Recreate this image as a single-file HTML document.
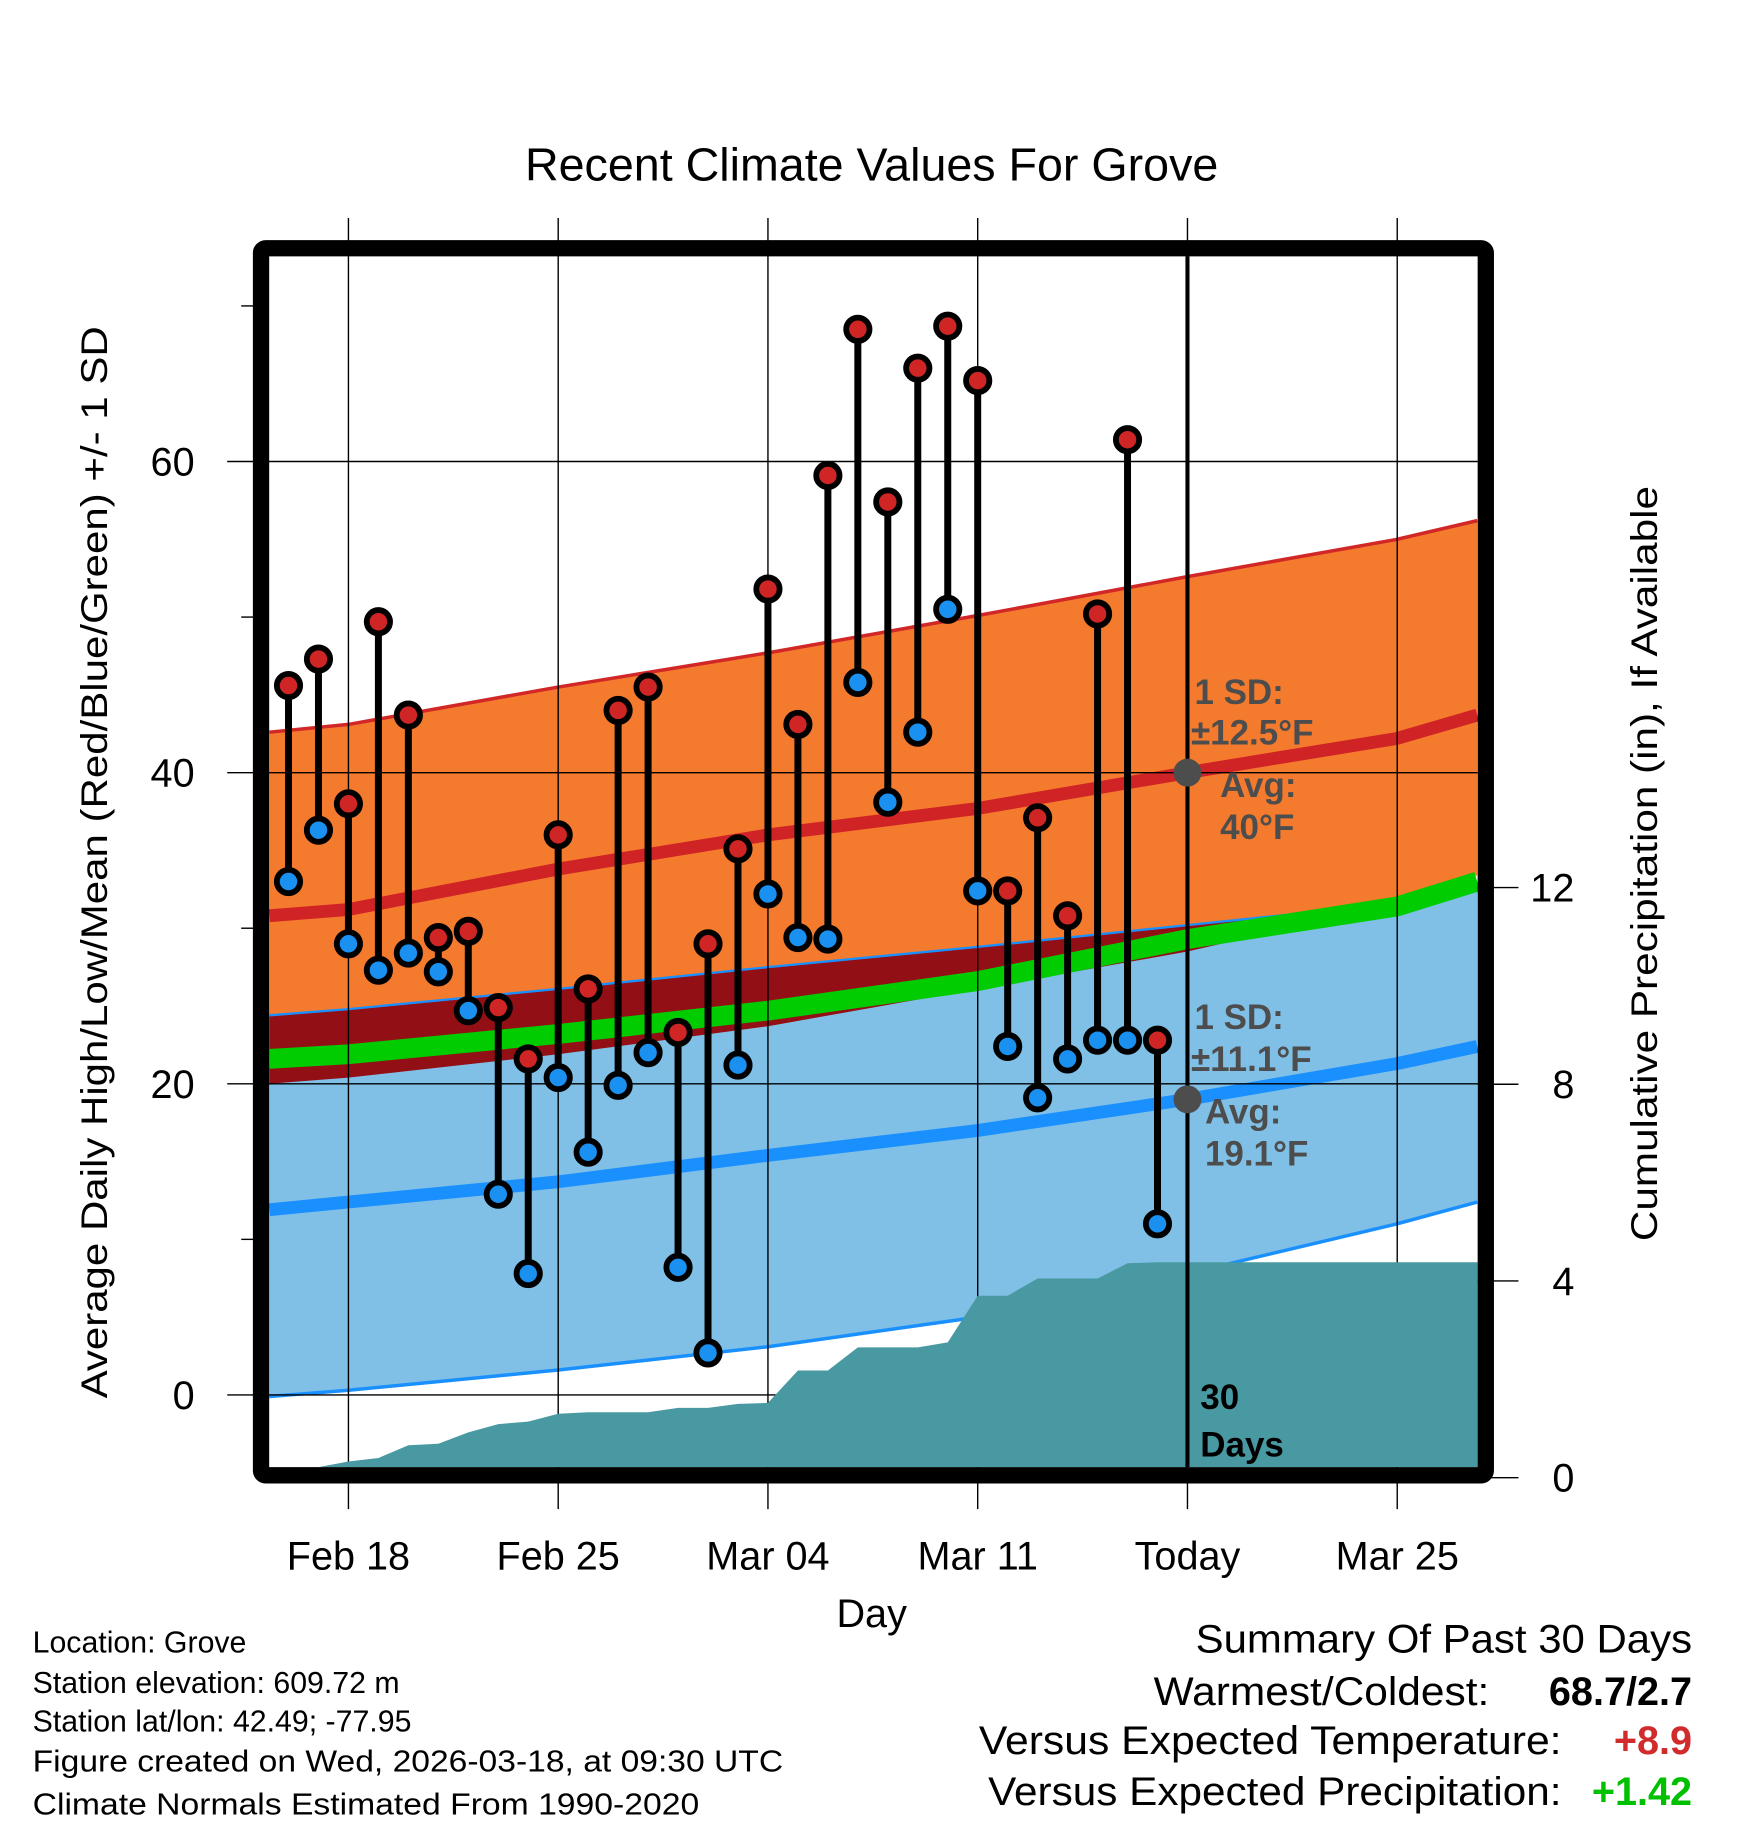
<!DOCTYPE html>
<html><head><meta charset="utf-8"><style>
html,body{margin:0;padding:0;background:#fff}
svg{display:block;font-family:"Liberation Sans",sans-serif}
</style></head><body>
<svg id="chart" width="1748" height="1828" viewBox="0 0 1500 1568.6" xmlns="http://www.w3.org/2000/svg">
<g id="bands"></g>
<g id="grid"></g>
<g id="precip"></g>
<g id="marks"></g>
<g id="annot"></g>
<rect x="224" y="213" width="1051" height="1053" rx="4" fill="none" stroke="#000" stroke-width="14"/>
<text x="748" y="155" font-size="40" text-anchor="middle">Recent Climate Values For Grove</text>
<text transform="translate(92,740) rotate(-90)" font-size="32" text-anchor="middle" textLength="920" lengthAdjust="spacingAndGlyphs">Average Daily High/Low/Mean (Red/Blue/Green) +/- 1 SD</text>
<text transform="translate(1422,741) rotate(-90)" font-size="32" text-anchor="middle" textLength="648" lengthAdjust="spacingAndGlyphs">Cumulative Precipitation (in), If Available</text>
<text x="748" y="1396" font-size="34" text-anchor="middle">Day</text>
<g font-size="26">
<text x="28" y="1418">Location: Grove</text>
<text x="28" y="1453">Station elevation: 609.72 m</text>
<text x="28" y="1486">Station lat/lon: 42.49; -77.95</text>
<text x="28" y="1520" textLength="644" lengthAdjust="spacingAndGlyphs">Figure created on Wed, 2026-03-18, at 09:30 UTC</text>
<text x="28" y="1557" textLength="572" lengthAdjust="spacingAndGlyphs">Climate Normals Estimated From 1990-2020</text>
</g>
<g font-size="34">
<text x="1452" y="1418" text-anchor="end" textLength="426" lengthAdjust="spacingAndGlyphs">Summary Of Past 30 Days</text>
<text x="1278" y="1463" text-anchor="end" textLength="288" lengthAdjust="spacingAndGlyphs">Warmest/Coldest:</text>
<text x="1452" y="1463" text-anchor="end" font-weight="bold">68.7/2.7</text>
<text x="1340" y="1505" text-anchor="end" textLength="500" lengthAdjust="spacingAndGlyphs">Versus Expected Temperature:</text>
<text x="1452" y="1505" text-anchor="end" font-weight="bold" fill="#d12b2b">+8.9</text>
<text x="1340" y="1549" text-anchor="end" textLength="492" lengthAdjust="spacingAndGlyphs">Versus Expected Precipitation:</text>
<text x="1452" y="1549" text-anchor="end" font-weight="bold" fill="#00c000">+1.42</text>
</g>
</svg>
<script>
// ---- data ----
const highs = [45.6,47.3,38.0,49.7,43.7,29.4,29.8,24.9,21.6,36.0,26.1,44.0,45.5,23.3,29.0,35.1,51.8,43.1,59.1,68.5,57.4,66.0,68.7,65.2,32.4,37.1,30.8,50.2,61.4,22.8];
const lows = [33.0,36.3,29.0,27.3,28.4,27.2,24.7,12.9,7.8,20.4,15.6,19.9,22.0,8.2,2.7,21.2,32.2,29.4,29.3,45.8,38.1,42.6,50.5,32.4,22.4,19.1,21.6,22.8,22.8,11.0];
const precipCum = [0,0.1,0.33,0.40,0.66,0.69,0.92,1.09,1.14,1.30,1.33,1.33,1.33,1.42,1.42,1.50,1.52,2.18,2.18,2.65,2.65,2.65,2.75,3.70,3.70,4.05,4.05,4.05,4.36,4.38];
// normals, days relative to Feb 18
const normDays = [-2.64,0,7,14,21,28,35,37.67];
const highUpper = [42.6,43.1,45.5,47.7,50.1,52.6,55.0,56.2];
const highMean = [30.8,31.2,33.8,36.0,37.7,40.0,42.2,43.7];
const highLower = [20.0,20.4,21.9,23.7,26.1,28.5,31.8,33.4];
const lowUpper = [24.4,24.8,26.1,27.5,28.8,30.2,31.6,32.4];
const lowMean = [11.9,12.4,13.7,15.4,17.0,19.0,21.3,22.4];
const lowLower = [-0.1,0.3,1.6,3.1,5.0,7.8,11.0,12.4];
const meanT = [21.6,21.9,23.2,24.7,26.6,29.3,31.4,33.0];
const xTickLabels = ["Feb 18","Feb 25","Mar 04","Mar 11","Today","Mar 25"];
const xTickDays = [0,7,14,21,28,35];
const yTicks = [0,20,40,60];
const yMinor = [10,30,50,70];
const pTicks = [0,4,8,12];
const firstDay = -2; // Feb 16 relative to Feb 18

// ---- axes ----
const X = d => 299 + d*25.714;
const Y = v => 1197 - v*13.35;
const P = v => 1268 - v*42.2;
const NS = "http://www.w3.org/2000/svg";
function mk(tag, parent, attrs){const e=document.createElementNS(NS,tag);for(const k in attrs)e.setAttribute(k,attrs[k]);parent.appendChild(e);return e;}
const clampY = y => Math.max(220, Math.min(1259, y));

const bands = document.getElementById('bands');
function bandPath(up, lo){
  let d='';
  normDays.forEach((t,i)=>{d+=(i?'L':'M')+X(t)+','+clampY(Y(up[i]));});
  for(let i=normDays.length-1;i>=0;i--) d+='L'+X(normDays[i])+','+clampY(Y(lo[i]));
  return d+'Z';
}
function linePath(arr){return normDays.map((t,i)=>(i?'L':'M')+X(t)+','+Y(arr[i])).join('');}
let e;
e = mk('path',bands,{d:bandPath(highUpper,highLower),fill:'#f47a2e'});


e = mk('path',bands,{d:linePath(highUpper),fill:'none',stroke:'#d22727','stroke-width':3});


e = mk('path',bands,{d:bandPath(lowUpper,lowLower),fill:'#80c0e6'});


const ov = highLower.map((v,i)=>Math.min(v,lowUpper[i]));
e = mk('path',bands,{d:bandPath(lowUpper,ov),fill:'#930f16'});


e = mk('path',bands,{d:linePath(lowUpper),fill:'none',stroke:'#1a90ff','stroke-width':2});


e = mk('path',bands,{d:linePath(lowLower),fill:'none',stroke:'#1a90ff','stroke-width':3});


e = mk('path',bands,{d:linePath(meanT),fill:'none',stroke:'#00cc00','stroke-width':17});


e = mk('path',bands,{d:linePath(highMean),fill:'none',stroke:'#d02325','stroke-width':11});


e = mk('path',bands,{d:linePath(lowMean),fill:'none',stroke:'#1a90ff','stroke-width':11});



// precip
const pg = document.getElementById('precip');
let pd = 'M'+X(firstDay)+','+P(0);
precipCum.forEach((v,i)=>{pd+='L'+X(firstDay+i)+','+Math.min(1259,P(v));});
pd += 'L1268,'+P(precipCum[precipCum.length-1])+'L1268,1259L'+X(firstDay)+',1259Z';
e = mk('path',pg,{d:pd,fill:'#4899a1'});



// grid
const grid = document.getElementById('grid');
xTickDays.forEach((t,i)=>{
  e = mk('line',grid,{x1:X(t),x2:X(t),y1:187,y2:1295,stroke:'#000','stroke-width':1.2});
  
  
  e = mk('text',grid,{x:X(t),y:1347,'font-size':34,'text-anchor':'middle'});
  e.textContent = xTickLabels[i];
  
  
});
yTicks.forEach(v=>{
  e = mk('line',grid,{x1:195,x2:1268,y1:Y(v),y2:Y(v),stroke:'#000','stroke-width':1.2});
  
  
  e = mk('text',grid,{x:167,y:Y(v)+12,'font-size':34,'text-anchor':'end'});
  e.textContent = v;
  
  
});
yMinor.forEach(v=>{
  e = mk('line',grid,{x1:207,x2:220,y1:Y(v),y2:Y(v),stroke:'#000','stroke-width':1.2});
  
  
});
pTicks.forEach(v=>{
  e = mk('line',grid,{x1:1268,x2:1303,y1:P(v),y2:P(v),stroke:'#000','stroke-width':1.2});
  
  
  e = mk('text',grid,{x:1351,y:P(v)+12,'font-size':34,'text-anchor':'end'});
  e.textContent = v;
  
  
});

// marks
const mg = document.getElementById('marks');
highs.forEach((h,i)=>{
  const x = X(firstDay+i);
  e = mk('line',mg,{x1:x,x2:x,y1:Y(h),y2:Y(lows[i]),stroke:'#000','stroke-width':6});
  
  
});
highs.forEach((h,i)=>{
  const x = X(firstDay+i);
  e = mk('circle',mg,{cx:x,cy:Y(lows[i]),r:10,fill:'#1a90f0',stroke:'#000','stroke-width':5});
  
  
  e = mk('circle',mg,{cx:x,cy:Y(h),r:10,fill:'#d02525',stroke:'#000','stroke-width':5});
  
  
});

// annotations
const an = document.getElementById('annot');
const todayX = X(28);
e = mk('line',an,{x1:todayX,x2:todayX,y1:220,y2:1259,stroke:'#000','stroke-width':3.5});


e = mk('circle',an,{cx:todayX,cy:Y(highMean[5]),r:12,fill:'#4d4d4d'});


e = mk('circle',an,{cx:todayX,cy:Y(lowMean[5]),r:12,fill:'#4d4d4d'});


const notes = [["1 SD:",1025,604],["±12.5°F",1022,639],["Avg:",1047,684],["40°F",1047,720],["1 SD:",1025,883],["±11.1°F",1022,919],["Avg:",1034,964],["19.1°F",1034,1000]];
notes.forEach(n=>{
  e = mk('text',an,{x:n[1],y:n[2],'font-size':30,'font-weight':'bold',fill:'#4d4d4d'});
  e.textContent = n[0];
  
  
});
e = mk('text',an,{x:1030,y:1209,'font-size':30,'font-weight':'bold',fill:'#000'});
e.textContent='30';


e = mk('text',an,{x:1030,y:1250,'font-size':30,'font-weight':'bold',fill:'#000'});
e.textContent='Days';


</script>
</body></html>
